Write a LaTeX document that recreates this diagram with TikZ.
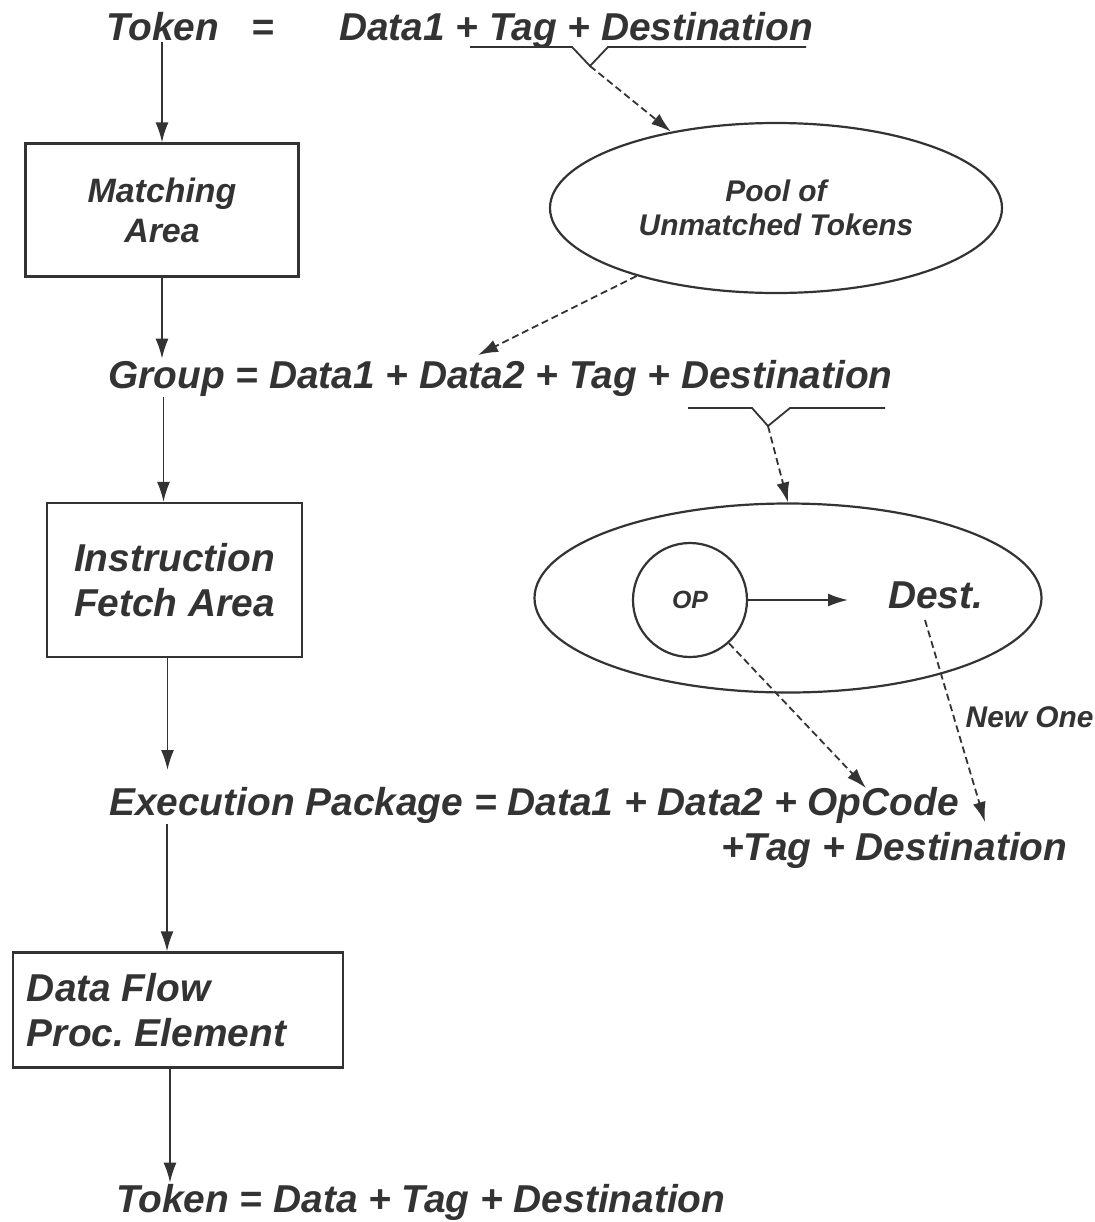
\documentclass[tikz,border=0pt]{standalone}
\usepackage{fontspec}
\setmainfont{Liberation Sans}
\usepackage{tikz}
\usetikzlibrary{calc}
\usetikzlibrary{positioning}
\usetikzlibrary{arrows.meta}
\usetikzlibrary{shapes.geometric}
\definecolor{ink}{gray}{0.2}
\tikzset{
  myarrow/.style={
    draw=ink,
    line width=1.8bp,
    -{Latex[length=20bp,width=13bp]},
  },
  mydashed/.style={
    myarrow,
    dash pattern=on 7bp off 4bp,
  },
  mytext/.style={
    text=ink,
    inner sep=1bp,
    font=\fontsize{39}{45}\selectfont\bfseries\itshape,
  },
  mysmall/.style={
    mytext,
    font=\fontsize{30}{34}\selectfont\bfseries\itshape,
  },
  mybox/.style={
    draw=ink,
    shape=rectangle,
    line width=2.2bp,
    text=ink,
    inner sep=0pt,
    font=\fontsize{39}{45}\selectfont\bfseries\itshape,
  },
  myellipse/.style={
    draw=ink,
    shape=ellipse,
    line width=2.2bp,
    inner sep=0pt,
    text=ink,
    align=center,
  },
  mybrace/.style={
    draw=ink,
    line width=1.8bp,
  },
}

\begin{document}
\begin{tikzpicture}[x=1bp,y=-1bp]
       \useasboundingbox (0,0) rectangle (1095,1222);

       % top token
       \node[mytext, anchor=base west] (tok) at (105,40) {Token};
       \node[mytext, anchor=base west] (eq) at (250,40) {=};
       \node[mytext, anchor=base west] (tokrhs) at (338,40) {Data1 + Tag + Destination};
       \draw[mybrace] (470,47) -- (572,47) -- (590,66) -- (608,47) -- (806,47);
       \coordinate (v1) at (590,66);

       \node[mybox, minimum width=273bp, minimum height=133bp, align=center,
             font=\fontsize{34}{40}\selectfont\bfseries\itshape] (match) at (162,210) {Matching\\Area};
       \node[myellipse, minimum width=452bp, minimum height=170bp,
             font=\fontsize{30}{34}\selectfont\bfseries\itshape] (pool) at (776,208) {Pool of\\Unmatched Tokens};

       \draw[myarrow] (match.north |- tok.south) -- (match.north);
       \draw[mydashed] (v1) -- (pool.144);

       % group
       \node[mytext, anchor=base west] (grp) at (107,388) {Group = Data1 + Data2 + Tag + Destination};
       \draw[myarrow] (match.south) -- (match.south |- grp.north);
       \draw[mydashed] (pool.206) -- (478,355);
       \draw[mybrace] (688,408) -- (752,408) -- (768,426) -- (790,408) -- (885,408);
       \coordinate (v2) at (768,426);

       % instruction fetch
       \node[mybox, minimum width=255bp, minimum height=154bp, align=center] (fetch) at (174.5,580) {Instruction\\Fetch Area};
       \node[myellipse, minimum width=507bp, minimum height=189bp] (instr) at (788,598) {};
       \node[myellipse, minimum size=114bp, shape=circle,
             font=\fontsize{25}{28}\selectfont\bfseries\itshape] (op) at (690,600) {OP};
       \node[mytext, anchor=base west] (dest) at (887,608) {Dest.};
       \draw[myarrow] ([xshift=-11bp]fetch.north |- grp.south) -- ([xshift=-11bp]fetch.north);
       \draw[mydashed] (v2) -- (instr.north);
       \draw[myarrow] (op.east) -- (848,600);

       % execution package
       \node[mytext, anchor=base west] (exe) at (108,815) {Execution Package = Data1 + Data2 + OpCode};
       \node[mytext, anchor=base west] (exe2) at (720,860) {+Tag + Destination};
       \coordinate (opc) at (866,788);
       \coordinate (dst) at (985,822);
       \draw[mydashed] (op.-48) -- (opc);
       \draw[mydashed] (925,620) -- (dst) node[pos=0.48, right=10bp, mysmall] (new) {New One};
       \draw[myarrow] ([xshift=-7bp]fetch.south) -- ([xshift=-7bp]fetch.south |- 0,770);

       % processing element
       \node[mybox, minimum width=330bp, minimum height=115bp, align=flush left,
             text width=302bp] (dfpe) at (178,1010) {Data Flow\\Proc.\ Element};
       \draw[myarrow] ([xshift=-11bp]dfpe.north |- exe.south) -- ([xshift=-11bp]dfpe.north);

       % bottom token
       \node[mytext, anchor=base west] (out) at (115,1212) {Token = Data + Tag + Destination};
       \draw[myarrow] ([xshift=-8bp]dfpe.south) -- ([xshift=-8bp]dfpe.south |- out.north);
   \end{tikzpicture}
\end{document}
